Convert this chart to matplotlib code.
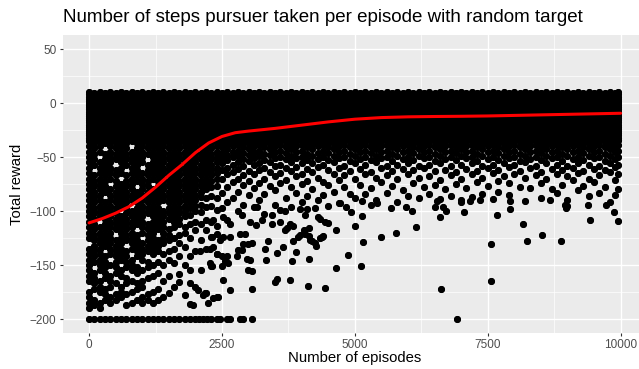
import matplotlib
matplotlib.use("Agg")
import matplotlib.pyplot as plt

plt.rcParams['font.family'] = ['Liberation Sans', 'DejaVu Sans']

# Saturated band near the top: every episode column has rewards here
band_rewards_a = [10, 8, 6, 4, 2, 0, -2, -4, -6, -8, -10, -12, -14, -16, -18, -20, -22,
                  -24, -26, -28, -30, -32, -34]
band_rewards_b = [9, 7, 5, 3, 1, -1, -3, -5, -7, -9, -11, -13, -15, -17, -19, -21, -23,
                  -25, -27, -29, -31, -33]

# early episodes: rewards below the band, per column
early_cols = [
    (0, [-35, -40, -45, -50, -55, -60, -65, -70, -75, -80, -85, -90, -95, -100, -105, -110, -115, -120, -125, -135, -140, -145, -150, -155, -160, -165, -175, -180, -185, -190]),
    (100, [-37, -42, -47, -52, -57, -67, -72, -77, -82, -87, -92, -97, -102, -107, -112, -117, -122, -127, -132, -137, -142, -147, -157, -162, -167, -172, -182, -187]),
    (200, [-35, -40, -45, -55, -60, -65, -70, -75, -80, -85, -90, -95, -100, -105, -115, -120, -125, -130, -135, -140, -145, -150, -155, -165, -170, -175, -185, -190]),
    (300, [-37, -47, -52, -57, -62, -67, -72, -77, -82, -92, -97, -102, -107, -112, -117, -122, -127, -132, -142, -147, -152, -157, -162, -172, -177, -182]),
    (400, [-35, -40, -45, -50, -55, -60, -65, -70, -80, -85, -90, -95, -100, -105, -110, -115, -120, -125, -130, -135, -140, -150, -160, -165, -170, -180, -185]),
    (500, [-37, -42, -47, -52, -62, -67, -72, -77, -82, -87, -92, -97, -102, -107, -112, -117, -127, -132, -137, -142, -147, -152, -157, -167, -177, -182]),
    (600, [-35, -40, -45, -50, -55, -60, -65, -75, -80, -85, -90, -95, -105, -110, -115, -120, -125, -130, -135, -140, -145, -155, -160, -170, -175, -180]),
    (700, [-37, -42, -47, -52, -57, -67, -72, -77, -82, -87, -92, -97, -102, -107, -112, -117, -122, -127, -137, -142, -147, -152, -162, -167, -177, -187]),
    (800, [-35, -45, -50, -55, -60, -65, -70, -75, -80, -85, -90, -100, -105, -110, -115, -120, -125, -130, -135, -145, -150, -155, -165, -175, -185]),
    (900, [-37, -42, -47, -52, -57, -62, -67, -72, -82, -87, -92, -97, -102, -107, -112, -122, -127, -132, -137, -142, -152, -157, -167, -172, -182]),
    (1000, [-35, -40, -45, -50, -55, -65, -70, -75, -80, -85, -90, -95, -100, -105, -110, -115, -120, -130, -135, -140, -145, -155, -165, -170, -180, -185]),
    (1100, [-37, -42, -47, -57, -62, -67, -72, -77, -82, -87, -92, -97, -102, -112, -117, -122, -127, -132, -137, -147, -152, -162, -177, -182]),
    (1200, [-35, -40, -45, -50, -55, -60, -65, -70, -80, -85, -90, -95, -100, -105, -110, -115, -120, -125, -130, -135, -140, -150, -160, -175, -185]),
    (1300, [-37, -42, -47, -52, -57, -62, -67, -72, -77, -82, -87, -92, -97, -102, -107, -112, -117, -127, -132, -137, -147, -157, -172, -182]),
    (1400, [-35, -40, -45, -50, -55, -60, -65, -70, -75, -80, -85, -90, -100, -105, -110, -115, -120, -125, -130, -140, -150, -165, -180]),
    (1500, [-37, -42, -47, -52, -57, -62, -67, -72, -77, -82, -87, -92, -97, -102, -107, -117, -122, -127, -137, -145, -160, -176]),
    (1600, [-35, -40, -45, -50, -55, -60, -65, -70, -75, -80, -85, -90, -95, -100, -105, -110, -115, -125, -135, -148, -170]),
    (1700, [-37, -42, -47, -52, -57, -62, -67, -72, -77, -82, -87, -92, -97, -102, -107, -112, -122, -130, -142, -158, -166]),
    (1800, [-35, -40, -45, -50, -55, -60, -65, -70, -75, -80, -85, -90, -95, -100, -105, -115, -120, -133, -150, -178]),
    (1900, [-37, -42, -47, -52, -57, -62, -67, -72, -77, -82, -87, -92, -97, -104, -112, -125, -142, -155, -167, -186]),
    (2000, [-35, -40, -45, -50, -55, -60, -65, -70, -75, -80, -85, -90, -95, -100, -110, -118, -137, -170]),
    (2100, [-37, -42, -47, -52, -57, -62, -67, -72, -77, -82, -87, -94, -101, -112, -127, -155]),
    (2200, [-35, -40, -45, -50, -55, -60, -65, -70, -75, -80, -88, -96, -108, -118, -135, -176]),
    (2300, [-37, -42, -47, -52, -57, -62, -67, -72, -78, -86, -95, -110, -124, -151]),
    (2400, [-35, -40, -45, -50, -55, -60, -65, -70, -77, -88, -99, -114, -140, -180]),
]

# later episodes: rewards just under the band
late_cols = [
    (2500, [-36, -41, -46, -51, -56, -62, -70, -83, -97]),
    (2600, [-34, -38, -43, -48, -53, -60, -66, -78, -92, -108]),
    (2700, [-36, -40, -45, -50, -57, -64, -73, -88]),
    (2800, [-34, -39, -44, -49, -55, -61, -70, -82, -100]),
    (2900, [-36, -41, -46, -52, -58, -67, -76, -94]),
    (3000, [-34, -38, -43, -48, -54, -63, -72, -85]),
    (3100, [-36, -40, -45, -51, -57, -66, -79, -96]),
    (3200, [-34, -39, -44, -49, -56, -62, -74, -90]),
    (3300, [-36, -41, -47, -53, -60, -70, -84, -103]),
    (3400, [-34, -38, -43, -48, -55, -64, -77]),
    (3500, [-36, -40, -45, -51, -58, -68, -81, -94]),
    (3600, [-34, -39, -44, -50, -57, -65, -74, -99]),
    (3700, [-36, -41, -46, -52, -60, -71, -88]),
    (3800, [-34, -38, -43, -49, -55, -63, -78, -96]),
    (3900, [-36, -40, -45, -51, -59, -68, -83]),
    (4000, [-34, -39, -44, -50, -56, -66, -75, -92]),
    (4100, [-36, -41, -47, -53, -61, -72, -86, -98]),
    (4200, [-34, -38, -43, -49, -56, -64, -80]),
    (4300, [-36, -40, -46, -52, -59, -69, -90]),
    (4400, [-34, -39, -44, -50, -57, -73, -85]),
    (4500, [-36, -41, -46, -53, -62, -76, -95]),
    (4600, [-34, -38, -43, -49, -55, -66, -82]),
    (4700, [-36, -40, -45, -51, -60, -71, -93]),
    (4800, [-34, -39, -44, -50, -58, -67, -78]),
    (4900, [-36, -41, -47, -54, -63, -84]),
    (5000, [-34, -38, -43, -49, -56, -70, -88]),
    (5100, [-36, -40, -45, -52, -61, -76]),
    (5200, [-34, -39, -44, -50, -57, -66, -84]),
    (5300, [-36, -41, -46, -53, -64, -79]),
    (5400, [-34, -38, -43, -49, -55, -69, -90]),
    (5500, [-36, -40, -45, -51, -60, -73]),
    (5600, [-34, -39, -44, -50, -58, -67, -83]),
    (5700, [-36, -41, -47, -54, -63, -77]),
    (5800, [-34, -38, -43, -49, -57, -70, -92]),
    (5900, [-36, -40, -45, -52, -61, -81]),
    (6000, [-34, -39, -44, -50, -56, -66, -86]),
    (6100, [-36, -41, -46, -53, -62, -74]),
    (6200, [-34, -38, -43, -49, -58, -69, -88]),
    (6300, [-36, -40, -45, -51, -60, -78]),
    (6400, [-34, -39, -44, -50, -57, -68, -84]),
    (6500, [-36, -41, -47, -54, -63, -76]),
    (6600, [-34, -38, -43, -49, -56, -71, -89]),
    (6700, [-36, -40, -45, -52, -62, -80]),
    (6800, [-34, -39, -44, -50, -58, -67, -86]),
    (6900, [-36, -41, -46, -53, -64, -75]),
    (7000, [-34, -38, -43, -49, -57, -70, -90]),
    (7100, [-36, -40, -45, -51, -61, -79]),
    (7200, [-34, -39, -44, -50, -56, -66, -87]),
    (7300, [-36, -41, -47, -54, -63, -73]),
    (7400, [-34, -38, -43, -49, -58, -69, -84]),
    (7500, [-36, -40, -45, -52, -60, -77]),
    (7600, [-34, -39, -44, -50, -57, -65, -89]),
    (7700, [-36, -41, -46, -53, -62, -72, -82]),
    (7800, [-34, -38, -43, -49, -56, -68]),
    (7900, [-36, -40, -45, -51, -59, -74, -85]),
    (8000, [-34, -39, -44, -50, -57, -66]),
    (8100, [-36, -41, -47, -54, -63, -78]),
    (8200, [-34, -38, -43, -49, -55, -69, -91]),
    (8300, [-36, -40, -45, -52, -60, -79]),
    (8400, [-34, -39, -44, -50, -58, -67]),
    (8500, [-36, -41, -46, -53, -64, -74, -88]),
    (8600, [-34, -38, -43, -49, -56, -70]),
    (8700, [-36, -40, -45, -51, -61, -80]),
    (8800, [-34, -39, -44, -50, -57, -66, -83]),
    (8900, [-36, -41, -47, -54, -62, -76]),
    (9000, [-34, -38, -43, -49, -58, -68, -90]),
    (9100, [-36, -40, -45, -52, -60, -71]),
    (9200, [-34, -39, -44, -50, -56, -65, -81]),
    (9300, [-36, -41, -46, -53, -63, -77]),
    (9400, [-34, -38, -43, -49, -57, -70, -86]),
    (9500, [-36, -40, -45, -51, -61, -73]),
    (9600, [-34, -39, -44, -50, -58, -67, -83]),
    (9700, [-36, -41, -47, -54, -62, -78]),
    (9800, [-34, -38, -43, -49, -56, -64, -92]),
    (9900, [-36, -40, -45, -52, -59, -71, -85]),
    (9960, [-34, -39, -44, -50, -57, -66, -80]),
]

# isolated low-reward episodes
outliers = [
    (1962, -187), (2056, -173), (2088, -137), (2150, -178), (2182, -176), (2245, -185),
    (2276, -148), (2276, -135), (2307, -151), (2307, -124), (2338, -108), (2338, -181),
    (2340, -133), (2400, -121), (2400, -140), (2430, -180), (2463, -127), (2495, -151),
    (2495, -142), (2526, -164), (2526, -124), (2526, -106), (2555, -146), (2589, -142),
    (2620, -148), (2652, -173), (2652, -124), (2652, -112), (2777, -142), (2810, -136),
    (2840, -121), (2871, -136), (2872, -104), (2903, -131), (2934, -121), (2966, -144),
    (2997, -155), (2997, -131), (3026, -145), (3028, -110), (3058, -130), (3058, -156),
    (3058, -172), (3139, -113), (3154, -96), (3248, -108), (3308, -135), (3327, -145),
    (3370, -128), (3434, -112), (3436, -104), (3496, -166), (3528, -163), (3528, -139),
    (3592, -110), (3652, -133), (3684, -118), (3686, -100), (3716, -116), (3778, -164),
    (3780, -112), (3810, -146), (3840, -128), (3840, -114), (3891, -138), (3936, -124),
    (3966, -122), (3968, -98), (4041, -118), (4062, -121), (4062, -104), (4122, -169),
    (4141, -144), (4141, -123), (4141, -116), (4154, -127), (4186, -128), (4248, -130),
    (4250, -97), (4267, -132), (4312, -106), (4342, -125), (4342, -107), (4374, -124),
    (4404, -123), (4436, -171), (4436, -110), (4499, -111), (4637, -153), (4643, -118),
    (4718, -93), (4843, -96), (4874, -141), (4937, -101), (5000, -114), (5113, -151),
    (5137, -91), (5137, -105), (5156, -129), (5300, -94), (5426, -93), (5489, -124),
    (5671, -97), (5765, -120), (5971, -96), (6078, -100), (6159, -115), (6504, -96),
    (6554, -91), (6598, -106), (6629, -172), (6660, -96), (6723, -100), (7005, -92),
    (7054, -101), (7175, -91), (7363, -90), (7569, -131), (7569, -165), (7682, -104),
    (7914, -91), (7926, -98), (8164, -112), (8246, -128), (8521, -122), (8679, -90),
    (8885, -128), (8947, -94), (8966, -97), (8984, -95), (9386, -94), (9417, -108),
    (9731, -94), (9868, -101), (9950, -109),
]

# episodes that ran out of steps (reward -200)
floor_eps = [0, 100, 200, 300, 400, 500, 600, 700, 800, 900, 1000, 1100, 1200, 1300,
             1400, 1500, 1600, 1700, 1800, 1900, 2000, 2070, 2140, 2210, 2290, 2400,
             2470, 2590, 2650, 2840, 2900, 3060, 6930]
floor_reward = -200

# smoothed trend
smooth_eps = [0, 250, 500, 750, 1000, 1250, 1500, 1750, 2000, 2250, 2500, 2750, 3000,
              3500, 4000, 4500, 5000, 5500, 6000, 6500, 7000, 7500, 8000, 8500, 9000,
              9500, 10000]
smooth_reward = [-111, -107, -102, -96, -88, -78, -67, -57, -46, -37, -31, -27.5, -26,
                 -23.5, -20.5, -17.5, -15, -13.5, -12.8, -12.5, -12.3, -12, -11.5, -11,
                 -10.5, -10, -9.5]

xs, ys = [], []
for i, (ep, lower) in enumerate(early_cols + late_cols):
    band = band_rewards_a if i % 2 == 0 else band_rewards_b
    for r in band + lower:
        xs.append(ep)
        ys.append(r)
for ep, r in outliers:
    xs.append(ep)
    ys.append(r)
for ep in floor_eps:
    xs.append(ep)
    ys.append(floor_reward)

W, H = 639, 369
fig = plt.figure(figsize=(W / 100, H / 100), dpi=100)
ax = fig.add_axes([62.5 / W, (H - 332.5) / H, 1 - 62.5 / W, (332.5 - 35.5) / H])
ax.set_facecolor('#EBEBEB')
for s in ax.spines.values():
    s.set_visible(False)

# hard-edged underlay fills the seams between overlapping dots,
# the smooth layer on top keeps the dot outlines soft
ax.scatter(xs, ys, s=24, c='black', linewidths=0, antialiased=False, zorder=2)
ax.scatter(xs, ys, s=26, c='black', linewidths=0, zorder=2.1)
ax.plot(smooth_eps, smooth_reward, color='red', lw=2.2, zorder=3, solid_capstyle='round')

ax.set_xlim(-500, 10346)
ax.set_ylim(-212.5, 62.5)
ax.set_xticks([0, 2500, 5000, 7500, 10000])
ax.set_xticks([1250, 3750, 6250, 8750], minor=True)
ax.set_yticks([-200, -150, -100, -50, 0, 50])
ax.set_yticks([-175, -125, -75, -25, 25], minor=True)
ax.grid(which='major', color='white', lw=1.0)
ax.grid(which='minor', color='white', lw=0.5)
ax.set_axisbelow(True)
ax.tick_params(which='minor', length=0)
ax.tick_params(which='major', length=2.5, width=0.8, color='#333333',
               labelcolor='#4D4D4D', labelsize=8.5, pad=2)

fig.text(63 / W, 1 - 18 / H, "Number of steps pursuer taken per episode with random target",
         fontsize=13.5, ha='left', va='center')
fig.text(355 / W, 1 - 358 / H, "Number of episodes", fontsize=10.7, ha='center', va='center')
fig.text(17 / W, 1 - 184 / H, "Total reward", fontsize=10.7, ha='center', va='center',
         rotation=90)

fig.savefig("out.png", dpi=100)
